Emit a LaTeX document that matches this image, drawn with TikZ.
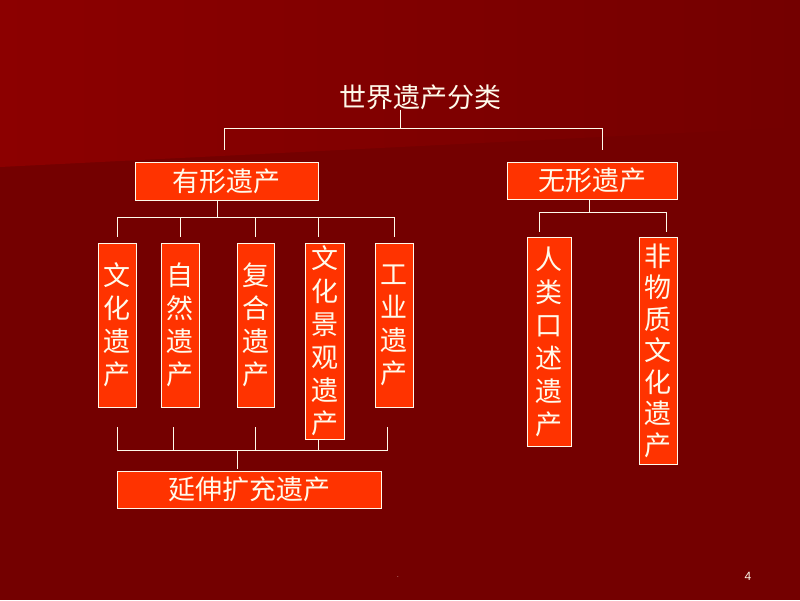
\documentclass[tikz,border=0pt]{standalone}
\usepackage{fontspec}
\setmainfont{Liberation Sans}
\newfontfamily\cjk{Noto Sans CJK SC}
\usepackage{tikz}
\definecolor{bgdark}{RGB}{116, 0, 0}
\definecolor{bglight}{RGB}{140, 0, 0}
\definecolor{boxred}{RGB}{255, 51, 0}
\definecolor{ink}{RGB}{255, 250, 235}
\tikzset{box/.style = {draw = ink, line width = 0.8, fill = boxred, text = ink, inner sep = 0, align = center, font = \cjk\fontsize{27}{33}\selectfont},
  link/.style = {draw = ink, line width = 0.9}}

\begin{document}
\begin{tikzpicture}[x = 1pt, y = -1pt]
    \useasboundingbox (0, 0) rectangle (800, 600);
    \fill [bgdark] (0, 0) rectangle (800, 600);
    \shade [left color = bglight, right color = bgdark] (0, 0) -- (800, 0) -- (800, 127) -- (0, 167) -- cycle;

    \node [text = ink, inner sep = 0, font = \cjk\fontsize{27}{33}\selectfont] (title) at (420, 97) {世界遗产分类};

    \node [box, minimum width = 183, minimum height = 38] (tang) at (226.5, 181) {有形遗产};
    \node [box, minimum width = 170, minimum height = 37] (intang) at (592, 180.5) {无形遗产};

    \node [box, minimum width = 38, minimum height = 164] (cult) at (117, 325) {文\\化\\遗\\产};
    \node [box, minimum width = 38, minimum height = 164] (nat) at (180, 325) {自\\然\\遗\\产};
    \node [box, minimum width = 37, minimum height = 164] (mix) at (255.5, 325) {复\\合\\遗\\产};
    \node [box, minimum width = 39, minimum height = 196] (land) at (324.5, 341) {文\\化\\景\\观\\遗\\产};
    \node [box, minimum width = 38, minimum height = 164] (ind) at (394, 325) {工\\业\\遗\\产};

    \node [box, minimum width = 264, minimum height = 37] (ext) at (249, 489.5) {延伸扩充遗产};

    \node [box, minimum width = 44, minimum height = 209] (oral) at (549, 341.5) {人\\类\\口\\述\\遗\\产};
    \node [box, minimum width = 38, minimum height = 227, font = \cjk\fontsize{27}{31.5}\selectfont] (ich) at (658, 350.5) {非\\物\\质\\文\\化\\遗\\产};

    % top level
    \draw [link] ([xshift = -20]title.south) -- ++(0, 19) coordinate (tb);
    \draw [link, shorten >= 12] (tb) -| ([xshift = -2]tang.north);
    \draw [link, shorten >= 12] (tb) -| ([xshift = 10]intang.north);

    % tangible heritage
    \draw [link] ([xshift = -9.5]tang.south) -- ++(0, 17) coordinate (lt);
    \foreach \n/\dx in {cult/0, nat/0, mix/0, land/-6.5, ind/0}
      \draw [link, shorten >= 6] (lt) -| ([xshift = \dx]\n.north);

    \draw [link, shorten <= 2] ([xshift = -12]ext.north) -- ++(0, -20) coordinate (lb);
    \foreach \n/\dx/\gap in {cult/0/20, nat/-7/20, mix/0/20, land/-6.5/0, ind/-7/20}
      \draw [link, shorten <= \gap] ([xshift = \dx]\n.south) |- (lb);

    % intangible heritage
    \draw [link] ([xshift = -3]intang.south) -- ++(0, 13) coordinate (rt);
    \foreach \n/\dx in {oral/-10, ich/8}
      \draw [link, shorten >= 5] (rt) -| ([xshift = \dx]\n.north);

    \node [text = ink, font = \fontsize{6}{7}\selectfont] (dot) at (398, 577) {.};
    \node [text = ink, font = \fontsize{12}{14}\selectfont] (page) at (748, 576) {4};
  \end{tikzpicture}
\end{document}
